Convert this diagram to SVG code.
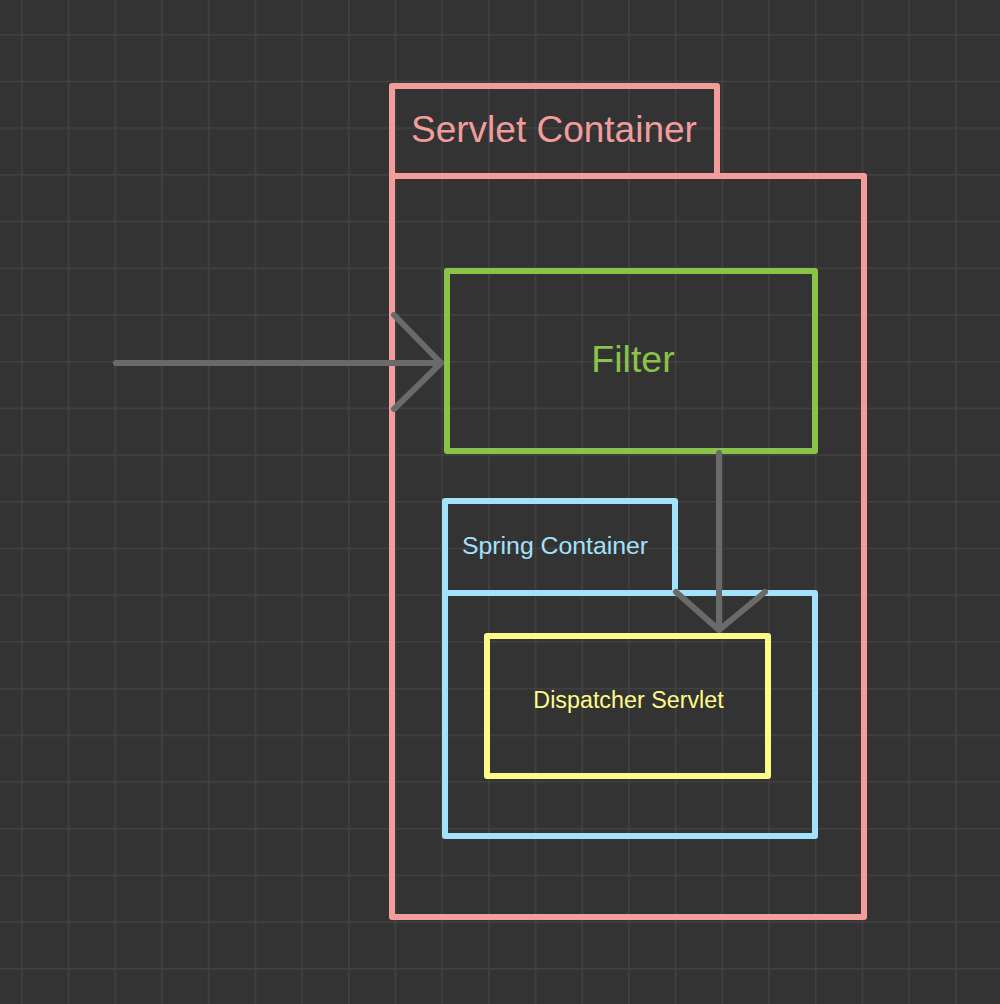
<svg xmlns="http://www.w3.org/2000/svg" width="1000" height="1004" viewBox="0 0 1000 1004">
<defs>
<pattern id="grid" x="21" y="34" width="46.7" height="46.7" patternUnits="userSpaceOnUse">
<path d="M0 0H46.7M0 0V46.7" stroke="#424242" stroke-width="3" fill="none"/>
</pattern>
</defs>
<style>
.box{fill:none;stroke-width:6;stroke-linejoin:round}
.servlet{stroke:#f29d9b}
.filter{stroke:#8bc34a}
.spring{stroke:#a3e2fb}
.disp{stroke:#fdfb88}
.conn{fill:none;stroke:#6a6a6a;stroke-width:6;stroke-linecap:round;stroke-linejoin:round}
text{font-family:"Liberation Sans",Arial,sans-serif}
</style>
<rect width="1000" height="1004" fill="#333333"/>
<rect width="1000" height="1004" fill="url(#grid)"/>
<g id="servlet-container">
<path class="box servlet" d="M392 176V86H717V176M392 176H864V917H392Z"/>
<text x="411" y="142" font-size="37" fill="#f29d9b">Servlet Container</text>
</g>
<g id="filter">
<rect class="box filter" x="447" y="271" width="368" height="180"/>
<text x="633" y="372" font-size="37.5" fill="#8bc34a" text-anchor="middle">Filter</text>
</g>
<g id="spring-container">
<path class="box spring" d="M445 593V501H675V593M445 593H815V836H445Z"/>
<text x="462" y="554" font-size="24.8" fill="#a3e2fb">Spring Container</text>
</g>
<g id="dispatcher-servlet">
<rect class="box disp" x="487" y="636" width="281" height="140"/>
<text x="628.5" y="708" font-size="23.3" fill="#fdfb88" text-anchor="middle">Dispatcher Servlet</text>
</g>
<g id="connectors">
<path class="conn" d="M116 363H441M394 315L441 363L394 409"/>
<path class="conn" d="M719 453V630M676 592L719 630L765 592"/>
</g>
</svg>
